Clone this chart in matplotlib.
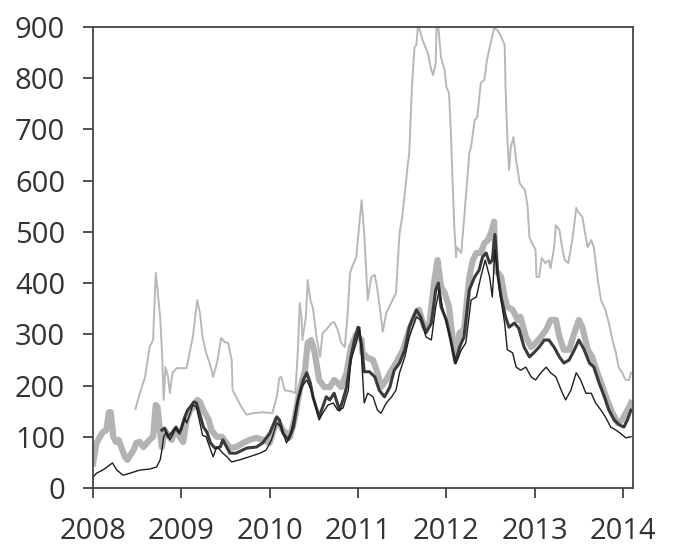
import matplotlib
matplotlib.use("Agg")
import matplotlib.pyplot as plt

# thin light grey series (starts mid 2008)
thin_light_t = [2008.48, 2008.53, 2008.59, 2008.64, 2008.68, 2008.71, 2008.73, 2008.76, 2008.78, 2008.80,
                2008.82, 2008.85, 2008.87, 2008.90, 2008.95, 2009.06, 2009.10, 2009.13, 2009.18, 2009.21,
                2009.24, 2009.28, 2009.32, 2009.36, 2009.39, 2009.41, 2009.45, 2009.49, 2009.53, 2009.57,
                2009.58, 2009.62, 2009.68, 2009.74, 2009.81, 2009.92, 2010.03, 2010.08, 2010.11, 2010.13,
                2010.17, 2010.26, 2010.29, 2010.32, 2010.34, 2010.36, 2010.37, 2010.41, 2010.43, 2010.46,
                2010.49, 2010.53, 2010.57, 2010.60, 2010.64, 2010.70, 2010.73, 2010.77, 2010.81, 2010.85,
                2010.88, 2010.91, 2010.94, 2010.98, 2011.04, 2011.07, 2011.11, 2011.15, 2011.19, 2011.22,
                2011.26, 2011.28, 2011.32, 2011.39, 2011.43, 2011.47, 2011.50, 2011.53, 2011.56, 2011.58,
                2011.61, 2011.64, 2011.66, 2011.68, 2011.73, 2011.79, 2011.83, 2011.85, 2011.88, 2011.89,
                2011.91, 2011.94, 2011.98, 2012.00, 2012.03, 2012.05, 2012.07, 2012.09, 2012.11, 2012.12,
                2012.17, 2012.18, 2012.20, 2012.26, 2012.28, 2012.32, 2012.35, 2012.39, 2012.43, 2012.46,
                2012.51, 2012.54, 2012.58, 2012.62, 2012.66, 2012.67, 2012.69, 2012.71, 2012.73, 2012.76,
                2012.79, 2012.83, 2012.86, 2012.89, 2012.92, 2012.94, 2012.97, 2013.01, 2013.02, 2013.05,
                2013.08, 2013.12, 2013.16, 2013.18, 2013.22, 2013.24, 2013.28, 2013.31, 2013.34, 2013.38,
                2013.42, 2013.45, 2013.47, 2013.50, 2013.54, 2013.57, 2013.60, 2013.64, 2013.67, 2013.71,
                2013.75, 2013.80, 2013.84, 2013.88, 2013.92, 2013.95, 2013.99, 2014.03, 2014.07, 2014.09]
thin_light_v = [154, 185, 217, 275, 289, 420, 387, 334, 270, 172,
                236, 217, 185, 225, 234, 234, 270, 295, 367, 342,
                295, 264, 244, 217, 236, 250, 293, 285, 283, 250,
                191, 178, 158, 143, 146, 148, 146, 178, 215, 217,
                191, 188, 185, 270, 361, 334, 289, 334, 406, 367,
                351, 295, 256, 303, 309, 322, 324, 309, 283, 275,
                334, 420, 435, 451, 562, 498, 367, 412, 416, 387,
                334, 305, 342, 367, 381, 498, 529, 576, 627, 654,
                783, 861, 865, 905, 875, 849, 816, 806, 830, 910,
                898, 840, 816, 783, 771, 699, 601, 510, 451, 470,
                459, 484, 523, 654, 666, 718, 724, 791, 797, 836,
                875, 898, 894, 881, 865, 783, 685, 621, 666, 685,
                640, 595, 588, 582, 549, 490, 478, 465, 412, 412,
                449, 439, 445, 429, 470, 513, 504, 470, 445, 439,
                478, 517, 547, 537, 529, 498, 470, 484, 470, 412,
                367, 348, 322, 289, 264, 236, 225, 211, 211, 225]

# thick light grey series
thick_light_t = [2008.00, 2008.04, 2008.08, 2008.11, 2008.15, 2008.18, 2008.20, 2008.23, 2008.26, 2008.29,
                 2008.32, 2008.36, 2008.39, 2008.42, 2008.46, 2008.49, 2008.53, 2008.57, 2008.61, 2008.64,
                 2008.68, 2008.71, 2008.73, 2008.76, 2008.78, 2008.81, 2008.85, 2008.89, 2008.93, 2008.97,
                 2009.02, 2009.06, 2009.10, 2009.14, 2009.18, 2009.21, 2009.25, 2009.31, 2009.34, 2009.40,
                 2009.46, 2009.55, 2009.62, 2009.70, 2009.77, 2009.85, 2009.92, 2010.00, 2010.08, 2010.15,
                 2010.23, 2010.28, 2010.34, 2010.40, 2010.43, 2010.47, 2010.51, 2010.56, 2010.62, 2010.68,
                 2010.73, 2010.77, 2010.81, 2010.87, 2010.92, 2010.98, 2011.04, 2011.05, 2011.11, 2011.17,
                 2011.22, 2011.26, 2011.32, 2011.38, 2011.43, 2011.51, 2011.58, 2011.64, 2011.69, 2011.75,
                 2011.81, 2011.86, 2011.90, 2011.94, 2011.98, 2012.03, 2012.07, 2012.11, 2012.15, 2012.20,
                 2012.26, 2012.30, 2012.34, 2012.39, 2012.43, 2012.47, 2012.51, 2012.54, 2012.56, 2012.62,
                 2012.66, 2012.69, 2012.75, 2012.81, 2012.84, 2012.90, 2012.96, 2013.01, 2013.07, 2013.13,
                 2013.18, 2013.24, 2013.28, 2013.33, 2013.39, 2013.45, 2013.50, 2013.54, 2013.60, 2013.65,
                 2013.71, 2013.77, 2013.82, 2013.88, 2013.94, 2013.99, 2014.03, 2014.07, 2014.09]
thick_light_v = [48, 88, 100, 109, 113, 148, 148, 100, 90, 94,
                 80, 61, 55, 64, 74, 88, 90, 80, 88, 94,
                 100, 162, 158, 107, 80, 113, 103, 94, 113, 103,
                 90, 133, 152, 158, 172, 168, 152, 133, 113, 100,
                 100, 78, 80, 88, 94, 98, 94, 88, 133, 113,
                 100, 133, 191, 230, 283, 289, 264, 211, 197, 197,
                 211, 205, 197, 225, 275, 300, 289, 264, 254, 250,
                 225, 197, 211, 230, 244, 270, 309, 334, 348, 314,
                 322, 400, 445, 393, 381, 354, 295, 256, 303, 309,
                 412, 445, 459, 459, 478, 484, 500, 520, 425, 412,
                 373, 354, 348, 328, 334, 295, 275, 283, 295, 309,
                 328, 328, 295, 270, 270, 303, 328, 314, 270, 256,
                 225, 197, 172, 146, 127, 133, 146, 158, 166]

# thick dark grey series
thick_dark_t = [2008.78, 2008.81, 2008.85, 2008.90, 2008.94, 2008.98, 2009.04, 2009.07, 2009.10, 2009.14,
                2009.17, 2009.21, 2009.25, 2009.29, 2009.33, 2009.38, 2009.44, 2009.47, 2009.55, 2009.62,
                2009.74, 2009.85, 2009.92, 2010.00, 2010.08, 2010.11, 2010.15, 2010.21, 2010.27, 2010.32,
                2010.38, 2010.42, 2010.46, 2010.49, 2010.56, 2010.60, 2010.64, 2010.68, 2010.73, 2010.79,
                2010.83, 2010.87, 2010.92, 2010.96, 2011.00, 2011.04, 2011.07, 2011.13, 2011.19, 2011.24,
                2011.30, 2011.36, 2011.41, 2011.47, 2011.53, 2011.58, 2011.66, 2011.71, 2011.77, 2011.83,
                2011.88, 2011.91, 2011.94, 2012.00, 2012.05, 2012.10, 2012.15, 2012.20, 2012.26, 2012.32,
                2012.37, 2012.41, 2012.45, 2012.49, 2012.52, 2012.55, 2012.58, 2012.62, 2012.67, 2012.71,
                2012.77, 2012.82, 2012.88, 2012.94, 2012.99, 2013.05, 2013.11, 2013.16, 2013.22, 2013.28,
                2013.33, 2013.39, 2013.45, 2013.50, 2013.56, 2013.62, 2013.67, 2013.73, 2013.79, 2013.84,
                2013.90, 2013.96, 2014.01, 2014.05, 2014.09]
thick_dark_v = [113, 117, 100, 109, 119, 107, 139, 152, 158, 168,
                166, 143, 119, 109, 88, 78, 80, 94, 68, 68,
                78, 80, 88, 107, 139, 133, 107, 94, 119, 172,
                211, 225, 205, 178, 139, 158, 178, 172, 185, 152,
                172, 197, 256, 289, 314, 280, 227, 227, 217, 191,
                178, 197, 230, 244, 270, 314, 348, 334, 303, 322,
                387, 400, 354, 328, 289, 244, 275, 295, 387, 412,
                425, 451, 459, 439, 445, 495, 420, 373, 334, 314,
                322, 312, 275, 256, 264, 275, 289, 289, 275, 256,
                244, 250, 270, 289, 270, 244, 236, 205, 178, 152,
                133, 123, 119, 133, 152]

# thin black series
thin_black_t = [2008.00, 2008.04, 2008.11, 2008.19, 2008.22, 2008.27, 2008.34, 2008.42, 2008.53, 2008.64,
                2008.72, 2008.76, 2008.78, 2008.80, 2008.83, 2008.87, 2008.90, 2008.94, 2008.96, 2009.00,
                2009.04, 2009.06, 2009.10, 2009.13, 2009.17, 2009.21, 2009.24, 2009.28, 2009.32, 2009.36,
                2009.40, 2009.44, 2009.47, 2009.51, 2009.57, 2009.66, 2009.77, 2009.89, 2009.96, 2010.02,
                2010.08, 2010.13, 2010.19, 2010.24, 2010.30, 2010.36, 2010.42, 2010.47, 2010.53, 2010.56,
                2010.60, 2010.66, 2010.72, 2010.77, 2010.83, 2010.89, 2010.92, 2010.98, 2011.02, 2011.07,
                2011.11, 2011.17, 2011.22, 2011.26, 2011.32, 2011.38, 2011.43, 2011.47, 2011.53, 2011.58,
                2011.66, 2011.71, 2011.77, 2011.83, 2011.88, 2011.92, 2011.96, 2012.02, 2012.07, 2012.11,
                2012.17, 2012.22, 2012.28, 2012.34, 2012.39, 2012.44, 2012.49, 2012.52, 2012.55, 2012.60,
                2012.66, 2012.69, 2012.75, 2012.79, 2012.84, 2012.90, 2012.96, 2013.01, 2013.07, 2013.13,
                2013.18, 2013.24, 2013.30, 2013.35, 2013.41, 2013.47, 2013.52, 2013.58, 2013.64, 2013.69,
                2013.75, 2013.80, 2013.86, 2013.92, 2013.97, 2014.03, 2014.09]
thin_black_v = [21, 29, 35, 45, 49, 35, 25, 29, 35, 37,
                41, 55, 74, 100, 109, 94, 103, 117, 109, 113,
                137, 127, 146, 162, 158, 127, 103, 100, 80, 61,
                80, 74, 68, 62, 51, 55, 61, 68, 74, 94,
                127, 119, 88, 107, 158, 197, 211, 191, 152, 133,
                146, 162, 166, 152, 156, 191, 250, 283, 314, 166,
                185, 178, 152, 146, 166, 178, 191, 225, 256, 295,
                334, 328, 295, 289, 354, 387, 348, 309, 270, 244,
                270, 283, 367, 373, 412, 445, 412, 373, 465, 387,
                322, 270, 264, 236, 230, 236, 217, 211, 225, 236,
                225, 217, 191, 172, 191, 225, 211, 185, 185, 166,
                152, 139, 119, 113, 107, 98, 100]

x_ticks = [2008, 2009, 2010, 2011, 2012, 2013, 2014]
y_ticks = [0, 100, 200, 300, 400, 500, 600, 700, 800, 900]

plt.rcParams['font.family'] = ['Open Sans', 'DejaVu Sans']

fig = plt.figure(figsize=(6.76, 5.46), dpi=100)
ax = fig.add_axes([0.1376, 0.1062, 0.7984, 0.8443])

ax.plot(thin_light_t, thin_light_v, color='#b8b8b8', lw=1.4)
ax.plot(thick_light_t, thick_light_v, color='#b3b3b3', lw=4.5, solid_joinstyle='round')
ax.plot(thick_dark_t, thick_dark_v, color='#3a3a3a', lw=2.2)
ax.plot(thin_black_t, thin_black_v, color='#1e1e1e', lw=1.0)

ax.set_xlim(2008, 2014.11)
ax.set_ylim(0, 900)
ax.set_xticks(x_ticks)
ax.set_yticks(y_ticks)
ax.tick_params(direction='out', length=7, width=1.2, colors='#333333', labelsize=21,
               top=False, right=False)
ax.tick_params(axis='y', pad=13)
ax.tick_params(axis='x', pad=14)
for s in ax.spines.values():
    s.set_color('#444444')
    s.set_linewidth(1.3)

fig.savefig('out.png', dpi=100, facecolor='white')
